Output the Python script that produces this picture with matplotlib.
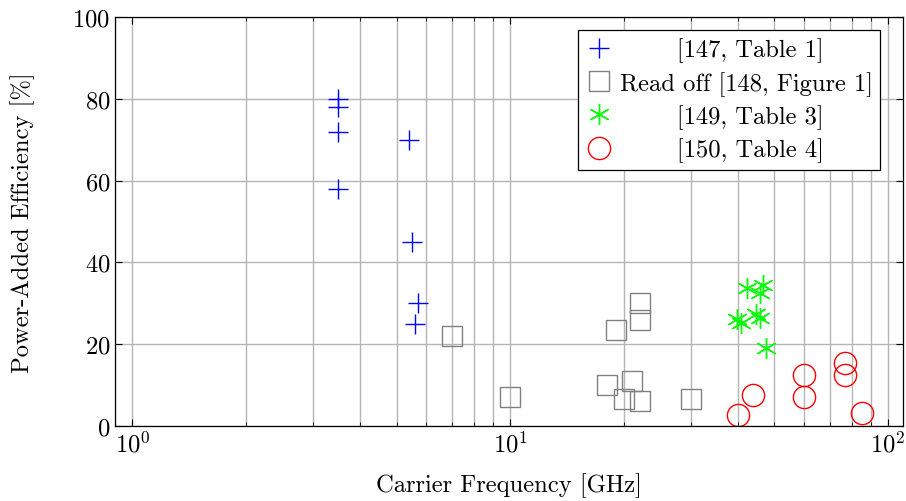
import matplotlib
matplotlib.use("Agg")
import matplotlib.pyplot as plt

plt.rcParams['font.family'] = ['cmr10', 'DejaVu Serif']
plt.rcParams['mathtext.fontset'] = 'cm'
plt.rcParams['axes.formatter.use_mathtext'] = True

# [147, Table 1]
f147 = [3.5, 3.5, 3.5, 3.5, 5.4, 5.5, 5.7, 5.6]
pae147 = [80, 78, 72, 58, 70, 45, 30, 25]
f148 = [7.0, 10, 19, 22, 22, 18, 21, 20, 22, 30]
pae148 = [22, 7, 23.5, 30, 26, 10, 11, 6.5, 6, 6.5]
# [149, Table 3]
f149 = [42.4, 46.6, 45.9, 39.9, 40.9, 44.8, 45.9, 47.5]
pae149 = [33.7, 34.5, 32.5, 26.2, 25.2, 27.3, 26.3, 19.1]
# [150, Table 4]
f150 = [40, 44, 60, 60, 77, 77, 85]
pae150 = [2.7, 7.7, 12.4, 7.2, 15.5, 12.5, 3.1]

fs = 17.7

fig = plt.figure(figsize=(9.06, 5.02), dpi=100)
ax = fig.add_axes([0.127, 0.1494, 0.8698, 0.8147])

ax.plot(f147, pae147, ls='none', marker='+', ms=15, mew=1.0, color='blue',
        label='       [147, Table 1]')
ax.plot(f148, pae148, ls='none', marker='s', ms=15, mew=1.0, mfc='none', mec='gray',
        label='Read off [148, Figure 1]')
ax.plot(f149, pae149, ls='none', marker=(6, 2, 0), ms=15, mew=1.0, color='#00ff00',
        label='       [149, Table 3]')
ax.plot(f150, pae150, ls='none', marker='o', ms=16, mew=1.0, mfc='none', mec='red',
        label='       [150, Table 4]')

ax.set_xscale('log')
ax.set_xlim(0.9, 109.5)
ax.set_ylim(0, 100)
ax.set_yticks([0, 20, 40, 60, 80, 100])

ax.grid(True, which='major', color='#b5b5b5', lw=1.0)
ax.grid(True, which='minor', axis='x', color='#b5b5b5', lw=1.0)
ax.tick_params(which='both', direction='in', top=True, right=True, labelsize=fs)
ax.tick_params(which='major', length=5)
ax.tick_params(which='minor', length=3)
for s in ax.spines.values():
    s.set_linewidth(0.9)

ax.set_xlabel('Carrier Frequency [GHz]', fontsize=fs, labelpad=11)
ax.set_ylabel('Power-Added Efficiency [%]', fontsize=fs, labelpad=27)

leg = ax.legend(loc='upper right', bbox_to_anchor=(0.971, 0.968), borderaxespad=0,
                fontsize=fs, fancybox=False, edgecolor='black', framealpha=1,
                handlelength=1.1, handletextpad=0.3, borderpad=0.3, labelspacing=0.35)
leg.get_frame().set_linewidth(0.9)

fig.savefig('out.png', dpi=100)
